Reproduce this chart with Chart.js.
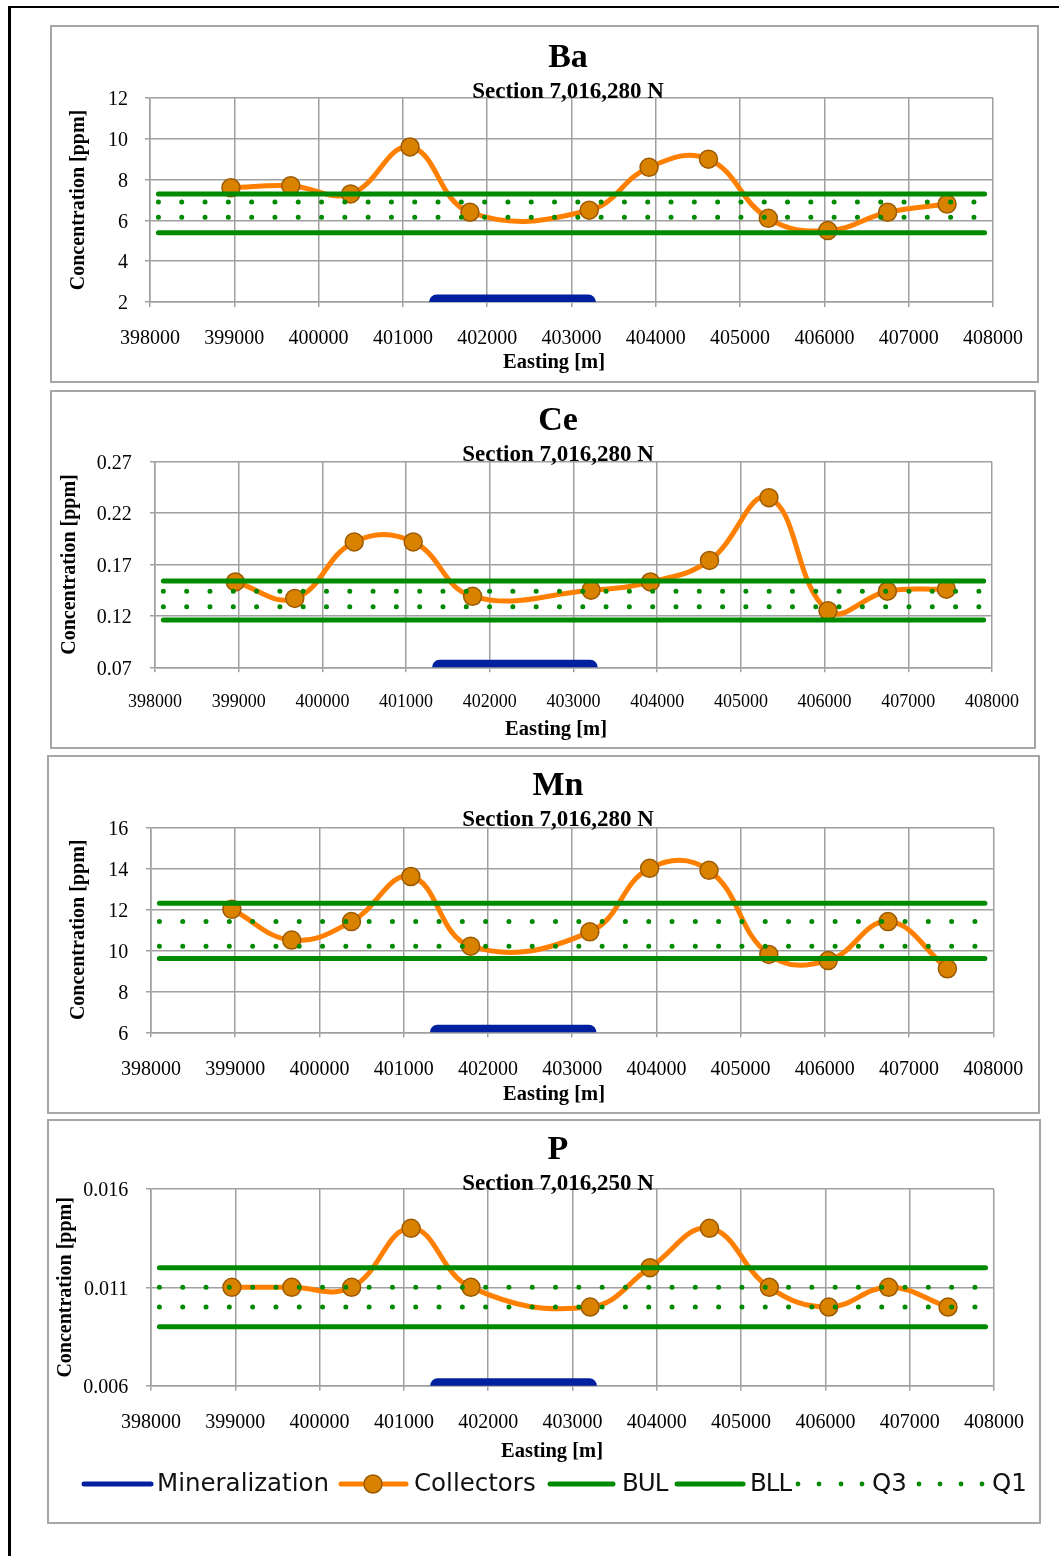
<!DOCTYPE html>
<html>
<head>
<meta charset="utf-8">
<title>Collector geochemistry profiles</title>
<script src="https://cdn.jsdelivr.net/npm/chart.js@4.4.1/dist/chart.umd.min.js"></script>
<style>
  html, body { margin: 0; padding: 0; background: #fff; }
  body { width: 1059px; height: 1556px; overflow: hidden; position: relative; }
  .frame { position: absolute; left: 8px; top: 6px; width: 1200px; height: 1700px;
           border-top: 2px solid #000; border-left: 3px solid #000; }
  .panel { position: absolute; background: #fff; }
  .panel canvas { position: absolute; left: 0; top: 0; }
  .panel .edge { position: absolute; left: 0; top: 0; right: 0; bottom: 0;
                 border: 2px solid #a6a6a6; box-sizing: border-box; pointer-events: none; }
  .legend-icons { position: absolute; left: 0; top: 1469px; }
  .legend-text { position: absolute; top: 1471px; font-family: "DejaVu Sans", sans-serif;
                 font-size: 24.5px; line-height: 1; color: #111; white-space: nowrap; }
  .legend-text.tight { letter-spacing: -1px; }
</style>
</head>
<body>
<div class="frame"></div>

<div class="panel" id="p0"><canvas id="c0"></canvas><div class="edge"></div></div>
<div class="panel" id="p1"><canvas id="c1"></canvas><div class="edge"></div></div>
<div class="panel" id="p2"><canvas id="c2"></canvas><div class="edge"></div></div>
<div class="panel" id="p3"><canvas id="c3"></canvas><div class="edge"></div></div>

<svg class="legend-icons" width="1059" height="30" xmlns="http://www.w3.org/2000/svg">
  <line x1="84" y1="15" x2="151" y2="15" stroke="#0020a0" stroke-width="5" stroke-linecap="round"/>
  <line x1="341" y1="15" x2="406" y2="15" stroke="#ff8000" stroke-width="5" stroke-linecap="round"/>
  <circle cx="373" cy="15" r="9" fill="#d98200" stroke="#9c5a00" stroke-width="1.5"/>
  <line x1="550" y1="15" x2="613" y2="15" stroke="#008a00" stroke-width="5" stroke-linecap="round"/>
  <line x1="677" y1="15" x2="743" y2="15" stroke="#008a00" stroke-width="5" stroke-linecap="round"/>
  <g fill="#008a00">
    <circle cx="798" cy="15" r="2.4"/><circle cx="819" cy="15" r="2.4"/>
    <circle cx="841" cy="15" r="2.4"/><circle cx="862" cy="15" r="2.4"/>
    <circle cx="919" cy="15" r="2.4"/><circle cx="940" cy="15" r="2.4"/>
    <circle cx="961" cy="15" r="2.4"/><circle cx="982" cy="15" r="2.4"/>
  </g>
</svg>
<span class="legend-text" style="left:157px">Mineralization</span>
<span class="legend-text" style="left:414px">Collectors</span>
<span class="legend-text tight" style="left:622px">BUL</span>
<span class="legend-text tight" style="left:750px">BLL</span>
<span class="legend-text" style="left:872px">Q3</span>
<span class="legend-text" style="left:992px">Q1</span>

<script>
// ---- data ----------------------------------------------------------------
const elementNames = ['Ba', 'Ce', 'Mn', 'P'];
const sectionNames = ['Section 7,016,280 N', 'Section 7,016,280 N', 'Section 7,016,280 N', 'Section 7,016,250 N'];

// collector sites along the section (easting, m)
const eastings = [398960, 399670, 400380, 401085, 401795, 403210, 403920, 404625, 405335, 406040, 406750, 407455];

// collector concentrations (ppm)
const baValues = [7.6, 7.7, 7.3, 9.6, 6.4, 6.5, 8.6, 9.0, 6.1, 5.5, 6.4, 6.8];
const ceValues = [0.153, 0.137, 0.192, 0.192, 0.139, 0.145, 0.153, 0.174, 0.235, 0.125, 0.144, 0.146];
const mnValues = [12.0, 10.5, 11.4, 13.6, 10.2, 10.9, 14.0, 13.9, 9.8, 9.5, 11.4, 9.1];
const pValues  = [0.011, 0.011, 0.011, 0.014, 0.011, 0.010, 0.012, 0.014, 0.011, 0.010, 0.011, 0.010];

// background limits and quartiles, one entry per element (Ba, Ce, Mn, P)
const bulLevels = [7.3, 0.154, 12.3, 0.012];
const bllLevels = [5.4, 0.116, 9.6, 0.009];
const q3Levels  = [6.9, 0.144, 11.4, 0.011];
const q1Levels  = [6.15, 0.129, 10.2, 0.010];

// easting extent of the background lines and of the mineralized zone
const levelSpan = [398100, 407900];
const mineralZone = [401400, 403200];

// axis ticks
const xTicks = [398000, 399000, 400000, 401000, 402000, 403000, 404000, 405000, 406000, 407000, 408000];
const baTicks = [2, 4, 6, 8, 10, 12];
const ceTicks = [0.07, 0.12, 0.17, 0.22, 0.27];
const mnTicks = [6, 8, 10, 12, 14, 16];
const pTicks  = [0.006, 0.011, 0.016];

const collectorSets = [baValues, ceValues, mnValues, pValues];
const yTickSets = [baTicks, ceTicks, mnTicks, pTicks];

// ---- layout of each panel (page position, plot box, text positions) -------
const layouts = [
  { left: 50, top: 25,   w: 989, h: 358, padL: 16.5, padR: 46,   padT: 73,   yW: 83.5, xH: 81,
    yPad: 17,   xPad: 20,   xFont: 20, titleX: 518, titleY: 41.5, subY: 72.5, xtX: 504, xtY: 343.3 },
  { left: 50, top: 390,  w: 986, h: 359, padL: 7.5,  padR: 44,   padT: 71.7, yW: 97.5, xH: 81.7,
    yPad: 18.3, xPad: 19,   xFont: 18, titleX: 508, titleY: 40,   subY: 71,   xtX: 506, xtY: 345 },
  { left: 47, top: 755,  w: 993, h: 359, padL: 19.7, padR: 46.7, padT: 72.3, yW: 84.3, xH: 81.7,
    yPad: 17.7, xPad: 20.5, xFont: 20, titleX: 511, titleY: 40,   subY: 71,   xtX: 507, xtY: 345 },
  { left: 47, top: 1119, w: 994, h: 405, padL: 7.2,  padR: 47,   padT: 70,   yW: 96.8, xH: 138.3,
    yPad: 17.7, xPad: 20,   xFont: 20, titleX: 511, titleY: 40.3, subY: 71,   xtX: 505, xtY: 337.7 }
];

const SERIF = '"Liberation Serif", "Times New Roman", serif';
const GREEN = '#008a00';
const GRID = '#a0a0a0';

// titles and the easting caption, placed relative to the panel
const panelLabels = {
  id: 'panelLabels',
  afterDraw(chart, args, opts) {
    const ctx = chart.ctx;
    ctx.save();
    ctx.fillStyle = '#000';
    ctx.textAlign = 'center';
    ctx.textBaseline = 'alphabetic';
    for (const t of opts.items) {
      ctx.font = t.font;
      ctx.fillText(t.text, t.x, t.y);
    }
    ctx.restore();
  }
};

function levelLine(label, level, dotted, order) {
  return {
    label,
    data: levelSpan.map(x => ({ x, y: level })),
    borderColor: GREEN,
    backgroundColor: GREEN,
    borderWidth: 5,
    borderCapStyle: 'round',
    borderDash: dotted ? [0, 23.3] : [],
    pointRadius: 0,
    tension: 0,
    order
  };
}

// the plot box is fixed by the layout padding, so label overhang is ignored
function fixScale(s, size) {
  if (s.isHorizontal()) s.height = size; else s.width = size;
  s.paddingLeft = 0;
  s.paddingRight = 0;
  s.paddingTop = 0;
  s.paddingBottom = 0;
}

function buildChart(i) {
  const L = layouts[i];
  const panel = document.getElementById('p' + i);
  panel.style.left = L.left + 'px';
  panel.style.top = L.top + 'px';
  panel.style.width = L.w + 'px';
  panel.style.height = L.h + 'px';
  const canvas = document.getElementById('c' + i);
  canvas.width = L.w;
  canvas.height = L.h;

  const yTicks = yTickSets[i];
  const yMin = yTicks[0];
  const yMax = yTicks[yTicks.length - 1];
  const values = collectorSets[i];

  const datasets = [
    {
      label: 'Mineralization',
      data: mineralZone.map(x => ({ x, y: yMin })),
      borderColor: '#0020a0',
      borderWidth: 15,
      borderCapStyle: 'round',
      pointRadius: 0,
      clip: 0,
      order: 6
    },
    {
      label: 'Collectors',
      data: eastings.map((x, k) => ({ x, y: values[k] })),
      borderColor: '#ff8000',
      borderWidth: 5,
      tension: 0.42,
      pointRadius: 9,
      pointBackgroundColor: '#d98200',
      pointBorderColor: '#9c5a00',
      pointBorderWidth: 1.5,
      order: 5
    },
    levelLine('BUL', bulLevels[i], false, 4),
    levelLine('BLL', bllLevels[i], false, 3),
    levelLine('Q3', q3Levels[i], true, 2),
    levelLine('Q1', q1Levels[i], true, 1)
  ];

  return new Chart(canvas, {
    type: 'line',
    data: { datasets },
    plugins: [panelLabels],
    options: {
      responsive: false,
      animation: false,
      devicePixelRatio: 1,
      layout: { padding: { left: L.padL, right: L.padR, top: L.padT, bottom: 0 } },
      plugins: {
        legend: { display: false },
        tooltip: { enabled: false },
        panelLabels: {
          items: [
            { text: elementNames[i], x: L.titleX, y: L.titleY, font: 'bold 34px ' + SERIF },
            { text: sectionNames[i], x: L.titleX, y: L.subY, font: 'bold 23px ' + SERIF },
            { text: 'Easting [m]', x: L.xtX, y: L.xtY, font: 'bold 20.5px ' + SERIF }
          ]
        }
      },
      scales: {
        x: {
          type: 'linear',
          min: xTicks[0],
          max: xTicks[xTicks.length - 1],
          afterBuildTicks: s => { s.ticks = xTicks.map(v => ({ value: v })); },
          afterFit: s => fixScale(s, L.xH),
          grid: { color: GRID, lineWidth: 1.5, tickLength: 5, drawTicks: true },
          border: { color: GRID, width: 1.5 },
          ticks: {
            color: '#000',
            padding: L.xPad,
            maxRotation: 0,
            autoSkip: false,
            font: { family: SERIF, size: L.xFont },
            callback: v => String(v)
          }
        },
        y: {
          type: 'linear',
          min: yMin,
          max: yMax,
          afterBuildTicks: s => { s.ticks = yTicks.map(v => ({ value: v })); },
          afterFit: s => fixScale(s, L.yW),
          grid: { color: GRID, lineWidth: 1.5, tickLength: 5, drawTicks: true },
          border: { color: GRID, width: 1.5 },
          ticks: {
            color: '#000',
            padding: L.yPad,
            labelOffset: 2,
            autoSkip: false,
            font: { family: SERIF, size: 20 },
            callback: v => String(v)
          },
          title: {
            display: true,
            text: 'Concentration [ppm]',
            color: '#000',
            padding: { top: 0, bottom: 0 },
            font: { family: SERIF, size: 20, weight: 'bold' }
          }
        }
      }
    }
  });
}

elementNames.forEach((_, i) => buildChart(i));
</script>
</body>
</html>
